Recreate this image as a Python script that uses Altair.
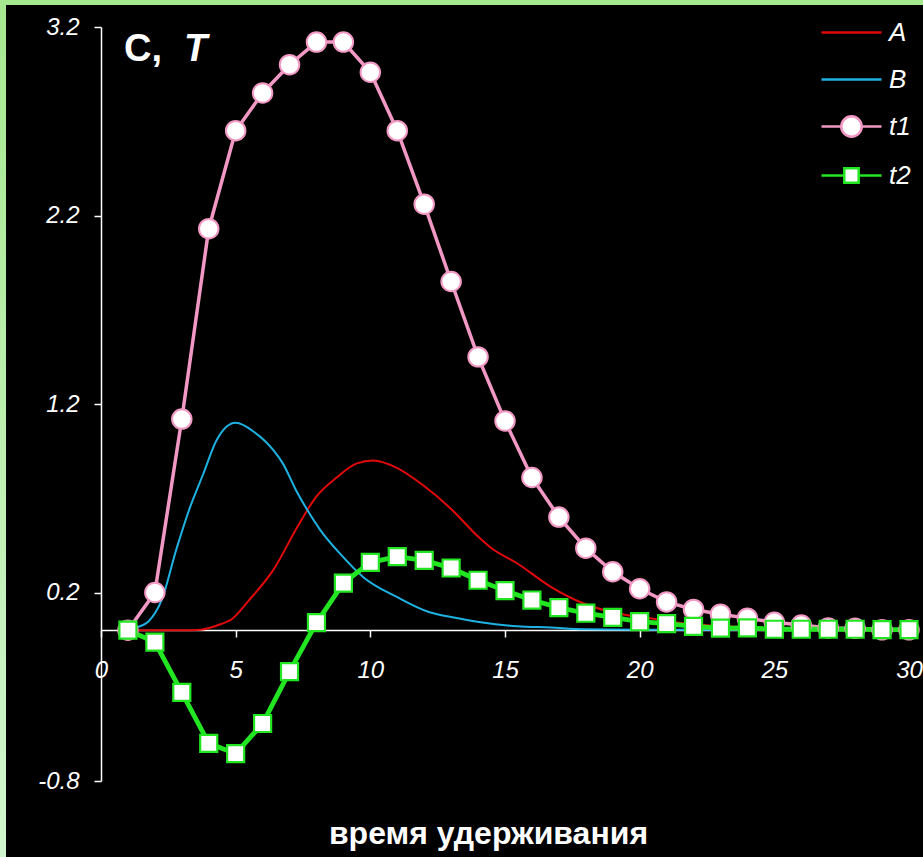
import altair as alt
import pandas as pd

# ---- data ----
series_names = ["A", "B", "t1", "t2"]
series_colors = ["#e00a0a", "#1eb2e2", "#f298c4", "#22e622"]

t_x = list(range(1, 31))
t1_vals = [0.0, 0.2, 1.12, 2.13, 2.65, 2.85, 3.0, 3.12, 3.12, 2.96,
           2.65, 2.26, 1.85, 1.45, 1.11, 0.81, 0.60, 0.435, 0.31, 0.22,
           0.15, 0.11, 0.085, 0.064, 0.042, 0.027, 0.012, 0.01, 0.002, 0.002]
t2_vals = [0.0, -0.063, -0.33, -0.60, -0.655, -0.495, -0.22, 0.04, 0.25, 0.36,
           0.39, 0.37, 0.33, 0.265, 0.21, 0.16, 0.12, 0.09, 0.068, 0.045,
           0.035, 0.02, 0.011, 0.012, 0.005, 0.005, 0.005, 0.005, 0.003, 0.003]

a_x = [1, 3.0, 3.7, 4.5, 4.8, 5.5, 6.4, 7.3, 8.0, 8.75, 9.5, 10.1, 11, 11.95,
       12.95, 14.05, 14.45, 15.45, 16.7, 17.9, 19.15, 20.4, 21.6, 23, 25, 27.5, 30]
a_vals = [0, 0, 0.003, 0.035, 0.053, 0.16, 0.32, 0.55, 0.71, 0.81, 0.885, 0.90,
          0.86, 0.77, 0.65, 0.49, 0.44, 0.355, 0.23, 0.143, 0.09, 0.063, 0.037,
          0.022, 0.01, 0.005, 0.003]

b_x = [1, 1.35, 1.75, 2.25, 2.8, 3.3, 3.8, 4.3, 5.0, 5.7, 6.4, 6.75, 7.25, 7.65,
       8.15, 8.85, 9.75, 11, 12.2, 13, 14.1, 15.45, 16.7, 17.9, 20, 25, 30]
b_vals = [0, 0.016, 0.045, 0.16, 0.43, 0.65, 0.83, 1.01, 1.10, 1.05, 0.955, 0.885,
          0.74, 0.64, 0.53, 0.41, 0.28, 0.175, 0.095, 0.07, 0.042, 0.021, 0.014,
          0.005, 0.003, 0.002, 0.002]

x_ticks = [0, 5, 10, 15, 20, 25, 30]
y_ticks = [-0.8, 0.2, 1.2, 2.2, 3.2]
x_title = "время удерживания"
y_title_parts = ["C,", "T"]

# ---- tables ----
curves = pd.concat([
    pd.DataFrame({"x": a_x, "y": a_vals, "s": "A"}),
    pd.DataFrame({"x": b_x, "y": b_vals, "s": "B"}),
])
pts = pd.concat([
    pd.DataFrame({"x": t_x, "y": t1_vals, "s": "t1"}),
    pd.DataFrame({"x": t_x, "y": t2_vals, "s": "t2"}),
])

FONT = "Liberation Sans"
W, H = 808, 754

line_p = "M-1,0H1"
circ_p = ("M-1,0H-0.34M0.34,0H1M0.34,0A0.34,0.34,0,1,1,-0.34,0"
          "A0.34,0.34,0,1,1,0.34,0Z")
sq_p = "M-1,0H-0.24M0.24,0H1M-0.24,-0.24H0.24V0.24H-0.24Z"

xs = alt.Scale(domain=[0, 30], nice=False, zero=False)
ys = alt.Scale(domain=[-0.8, 3.2], nice=False, zero=False)
stroke_scale = alt.Scale(domain=series_names, range=series_colors)
shape_scale = alt.Scale(domain=series_names, range=[line_p, line_p, circ_p, sq_p])

legend = alt.Legend(
    title=None, orient="none", legendX=719, legendY=-26, padding=0,
    symbolSize=3600, symbolStrokeWidth=2.5, symbolFillColor="white",
    labelFont=FONT, labelFontSize=26, labelFontStyle="italic",
    labelColor="white", labelOffset=6, rowPadding=2,
)

X = alt.X("x:Q", scale=xs, axis=alt.Axis(
    values=x_ticks, offset=-151, tickSize=7, labelPadding=21,
    labelFlush=False, format="d",
    title=x_title, titleFont=FONT, titleFontSize=32, titleFontWeight="bold",
    titleColor="white", titleX=387, titleY=213, titleBaseline="alphabetic",
    titleAnchor="start", titleAlign="center",
))
Y = alt.Y("y:Q", scale=ys, axis=alt.Axis(
    values=y_ticks, tickSize=7, labelPadding=15, title=None,
    labelExpr="replace(format(datum.value, '.1f'), '\u2212', '-')",
))
S = alt.Stroke("s:N", scale=stroke_scale, legend=legend)

one = pd.DataFrame({"k": [0]})
border_left = alt.Chart(one).mark_rect(
    color=alt.Gradient(gradient="linear", x1=0, y1=0, x2=0, y2=1,
                       stops=[alt.GradientStop(offset=0, color="#a6e88f"),
                              alt.GradientStop(offset=1, color="#d2f6cf")])
).encode(x=alt.value(-101), x2=alt.value(-95), y=alt.value(-27), y2=alt.value(830))
border_top = alt.Chart(one).mark_rect(color="#a6e88f").encode(
    x=alt.value(-101), x2=alt.value(822), y=alt.value(-27), y2=alt.value(-22))

lines_ab = alt.Chart(curves).mark_line(strokeWidth=2, interpolate="monotone").encode(
    x=X, y=Y, stroke=S, detail="s:N")
line_t1 = alt.Chart(pts).transform_filter("datum.s == 't1'").mark_line(
    strokeWidth=3.5).encode(x=X, y=Y, stroke=S)
line_t2 = alt.Chart(pts).transform_filter("datum.s == 't2'").mark_line(
    strokeWidth=4.8).encode(x=X, y=Y, stroke=S)
pts_t1 = alt.Chart(pts).transform_filter("datum.s == 't1'").mark_point(
    shape="circle", filled=True, fill="white", size=380, strokeWidth=2,
    opacity=1).encode(x=X, y=Y, stroke=S)
pts_t2 = alt.Chart(pts).transform_filter("datum.s == 't2'").mark_point(
    shape="square", filled=True, fill="white", size=290, strokeWidth=2.2,
    opacity=1).encode(x=X, y=Y, stroke=S)
legend_layer = alt.Chart(pts).transform_filter("false").mark_point(
    filled=True, fill="white", strokeWidth=2.5, opacity=1).encode(
    x=X, y=Y, stroke=S, shape=alt.Shape("s:N", scale=shape_scale, legend=legend))

title_c = alt.Chart(pd.DataFrame({"t": [y_title_parts[0]]})).mark_text(
    font=FONT, fontSize=38, fontWeight="bold", color="white",
    align="left", baseline="alphabetic").encode(
    text="t:N", x=alt.value(23), y=alt.value(34))
title_t = alt.Chart(pd.DataFrame({"t": [y_title_parts[1]]})).mark_text(
    font=FONT, fontSize=38, fontWeight="bold", fontStyle="italic", color="white",
    align="left", baseline="alphabetic").encode(
    text="t:N", x=alt.value(83), y=alt.value(34))

chart = alt.layer(
    border_left, border_top, lines_ab, line_t1, line_t2, pts_t1, pts_t2,
    legend_layer, title_c, title_t,
).properties(
    width=W, height=H,
    autosize=alt.AutoSizeParams(type="none"),
    padding={"left": 101, "top": 27, "right": 14, "bottom": 76},
    background="black",
).configure_view(stroke=None).configure_axis(
    grid=False, domainColor="white", tickColor="white", labelColor="white",
    domainWidth=1.5, tickWidth=1.5, labelFont=FONT, labelFontSize=24,
    labelFontStyle="italic",
)

chart.save("out.html", embed_options={"renderer": "svg", "actions": False})
